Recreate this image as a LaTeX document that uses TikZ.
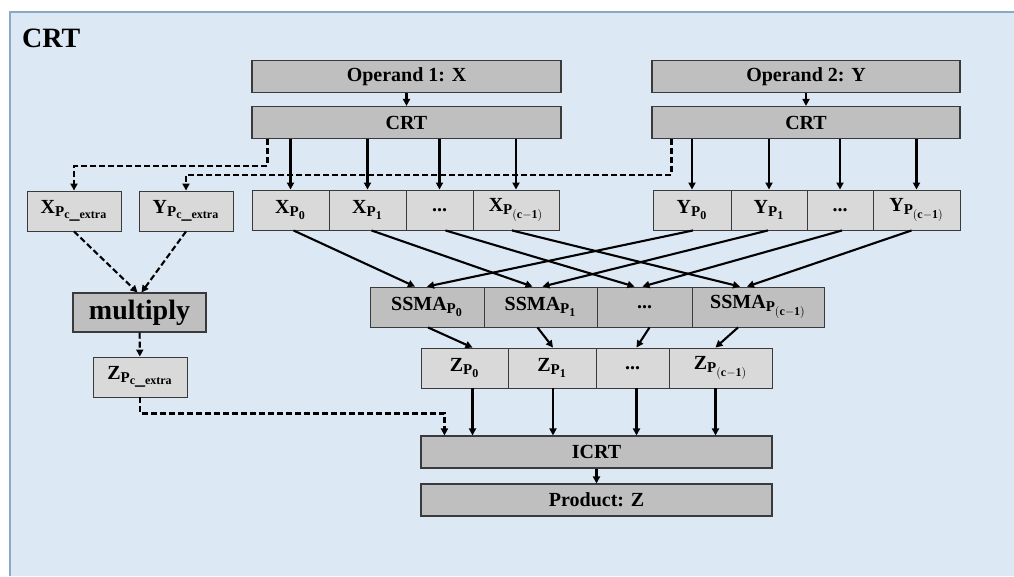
\documentclass[tikz,border=0pt]{standalone}
\usepackage{fontspec}
\setmainfont{Liberation Serif}
\usetikzlibrary{arrows.meta,calc}
\DeclareMathSizes{20}{20}{15}{12}
\definecolor{panelbg}{HTML}{DDE8F5}
\definecolor{panelrule}{HTML}{8AA8C8}
\definecolor{blockgray}{HTML}{BFBFBF}
\definecolor{cellgray}{HTML}{D9D9D9}
\definecolor{edge}{HTML}{3A3A3A}
\tikzset{
  block/.style={draw=edge,fill=blockgray,line width=1.1pt,inner sep=0pt,
                minimum height=32pt,font=\fontsize{20}{22}\selectfont\bfseries},
  cell/.style={draw=edge,fill=cellgray,line width=0.9pt,inner sep=0pt,
               minimum height=40pt,font=\fontsize{20}{22}\selectfont\bfseries},
  darkcell/.style={cell,fill=blockgray},
  solidarr/.style={-{Triangle[length=7pt,width=7pt]},line width=2.1pt},
  dasharr/.style={-{Triangle[length=7pt,width=7pt]},line width=2.1pt,
                  dash pattern=on 6pt off 3pt}
}

\begin{document}
\begin{tikzpicture}[x=1pt,y=-1pt]
  \useasboundingbox (0,0) rectangle (1014,576);
  \fill[panelbg] (10,12) rectangle (1014,576);
  \draw[panelrule,line width=1.2pt] (10,576) -- (10,12) -- (1014,12);
  \node[anchor=base west,inner sep=0pt,font=\fontsize{28}{30}\selectfont\bfseries] (title) at (22,47) {CRT};

  % operands and their residue conversion
  \node[block,minimum width=309pt] (op1) at (406.5,76.5) {Operand 1: X};
  \node[block,minimum width=309pt] (crt1) at (406.5,122.5) {CRT};
  \node[block,minimum width=308pt] (op2) at (806,76.5) {Operand 2: Y};
  \node[block,minimum width=308pt] (crt2) at (806,122.5) {CRT};

  % residue rows
  \foreach \nm/\xa/\xb/\txt in {x0/252/329/{$\mathbf{X_{P_0}}$},
      x1/329/406/{$\mathbf{X_{P_1}}$}, x2/406/473/{...},
      x3/473/559/{$\mathbf{X_{P_{(c-1)}}}$}}{
    \pgfmathsetmacro\w{\xb-\xa}
    \node[cell,minimum width=\w pt] (\nm) at ({(\xa+\xb)/2},210) {\txt};
  }
  \foreach \nm/\xa/\xb/\txt in {y0/653/731/{$\mathbf{Y_{P_0}}$},
      y1/731/807/{$\mathbf{Y_{P_1}}$}, y2/807/873/{...},
      y3/873/960/{$\mathbf{Y_{P_{(c-1)}}}$}}{
    \pgfmathsetmacro\w{\xb-\xa}
    \node[cell,minimum width=\w pt] (\nm) at ({(\xa+\xb)/2},210) {\txt};
  }
  \foreach \nm/\xa/\xb/\txt in {s0/370/484/{$\mathbf{SSMA_{P_0}}$},
      s1/484/597/{$\mathbf{SSMA_{P_1}}$}, s2/597/692/{...},
      s3/692/824/{$\mathbf{SSMA_{P_{(c-1)}}}$}}{
    \pgfmathsetmacro\w{\xb-\xa}
    \node[darkcell,minimum width=\w pt] (\nm) at ({(\xa+\xb)/2},307) {\txt};
  }
  \foreach \nm/\xa/\xb/\txt in {z0/421/508/{$\mathbf{Z_{P_0}}$},
      z1/508/596/{$\mathbf{Z_{P_1}}$}, z2/596/669/{...},
      z3/669/772/{$\mathbf{Z_{P_{(c-1)}}}$}}{
    \pgfmathsetmacro\w{\xb-\xa}
    \node[cell,minimum width=\w pt] (\nm) at ({(\xa+\xb)/2},368) {\txt};
  }

  % extra modulus path
  \node[cell,minimum width=94pt] (xext) at (74,211) {$\mathbf{X_{P_{c\_extra}}}$};
  \node[cell,minimum width=94pt] (yext) at (186,211) {$\mathbf{Y_{P_{c\_extra}}}$};
  \node[block,minimum width=133pt,minimum height=39pt,
        font=\fontsize{28}{30}\selectfont\bfseries] (mult) at (139.5,312.5) {multiply};
  \node[cell,minimum width=94pt] (zext) at (140,377) {$\mathbf{Z_{P_{c\_extra}}}$};

  % reconstruction
  \node[block,minimum width=351pt] (icrt) at (596.5,452) {ICRT};
  \node[block,minimum width=351pt] (prod) at (596.5,500) {Product: Z};

  \draw[solidarr] (op1) -- (crt1);
  \draw[solidarr] (op2) -- (crt2);
  \foreach \i in {0,...,3}{
    \draw[solidarr] (crt1.south -| x\i) -- (x\i.north);
    \draw[solidarr] (crt2.south -| y\i) -- (y\i.north);
  }
  \foreach \i/\a/\b/\c/\d in {0/3/-12/1/0, 1/4/-8/-1/2, 2/6/-10/2/-2, 3/-4/-18/-5/-11}{
    \draw[solidarr] ([xshift=\a pt]x\i.south) -- ([xshift=\b pt]s\i.north);
    \draw[solidarr] ([xshift=\c pt]y\i.south) -- ([xshift=\d pt]s\i.north);
  }
  \foreach \i/\a/\b in {0/1/8, 1/-3/1, 2/5/4, 3/-20/-5}{
    \draw[solidarr] ([xshift=\a pt]s\i.south) -- ([xshift=\b pt]z\i.north);
    \draw[solidarr] ($(z\i.south)+(\b,0)$) -- ($(z\i.south |- icrt.north)+(\b,0)$);
  }
  \draw[solidarr] (icrt) -- (prod);

  % dashed extra-channel links
  \draw[dasharr] ($(crt1.south west)+(16,0)$) -- ++(0,27) -| (xext.north);
  \draw[dasharr] ($(crt2.south west)+(20,0)$) -- ++(0,36) -| (yext.north);
  \draw[dasharr] (xext.south) -- ([xshift=-2pt]mult.north);
  \draw[dasharr] (yext.south) -- ([xshift=2pt]mult.north);
  \draw[dasharr] (mult) -- (zext);
  \draw[dasharr] (zext.south) -- ++(0,16) -| ($(icrt.north west)+(24,0)$);
\end{tikzpicture}
\end{document}
